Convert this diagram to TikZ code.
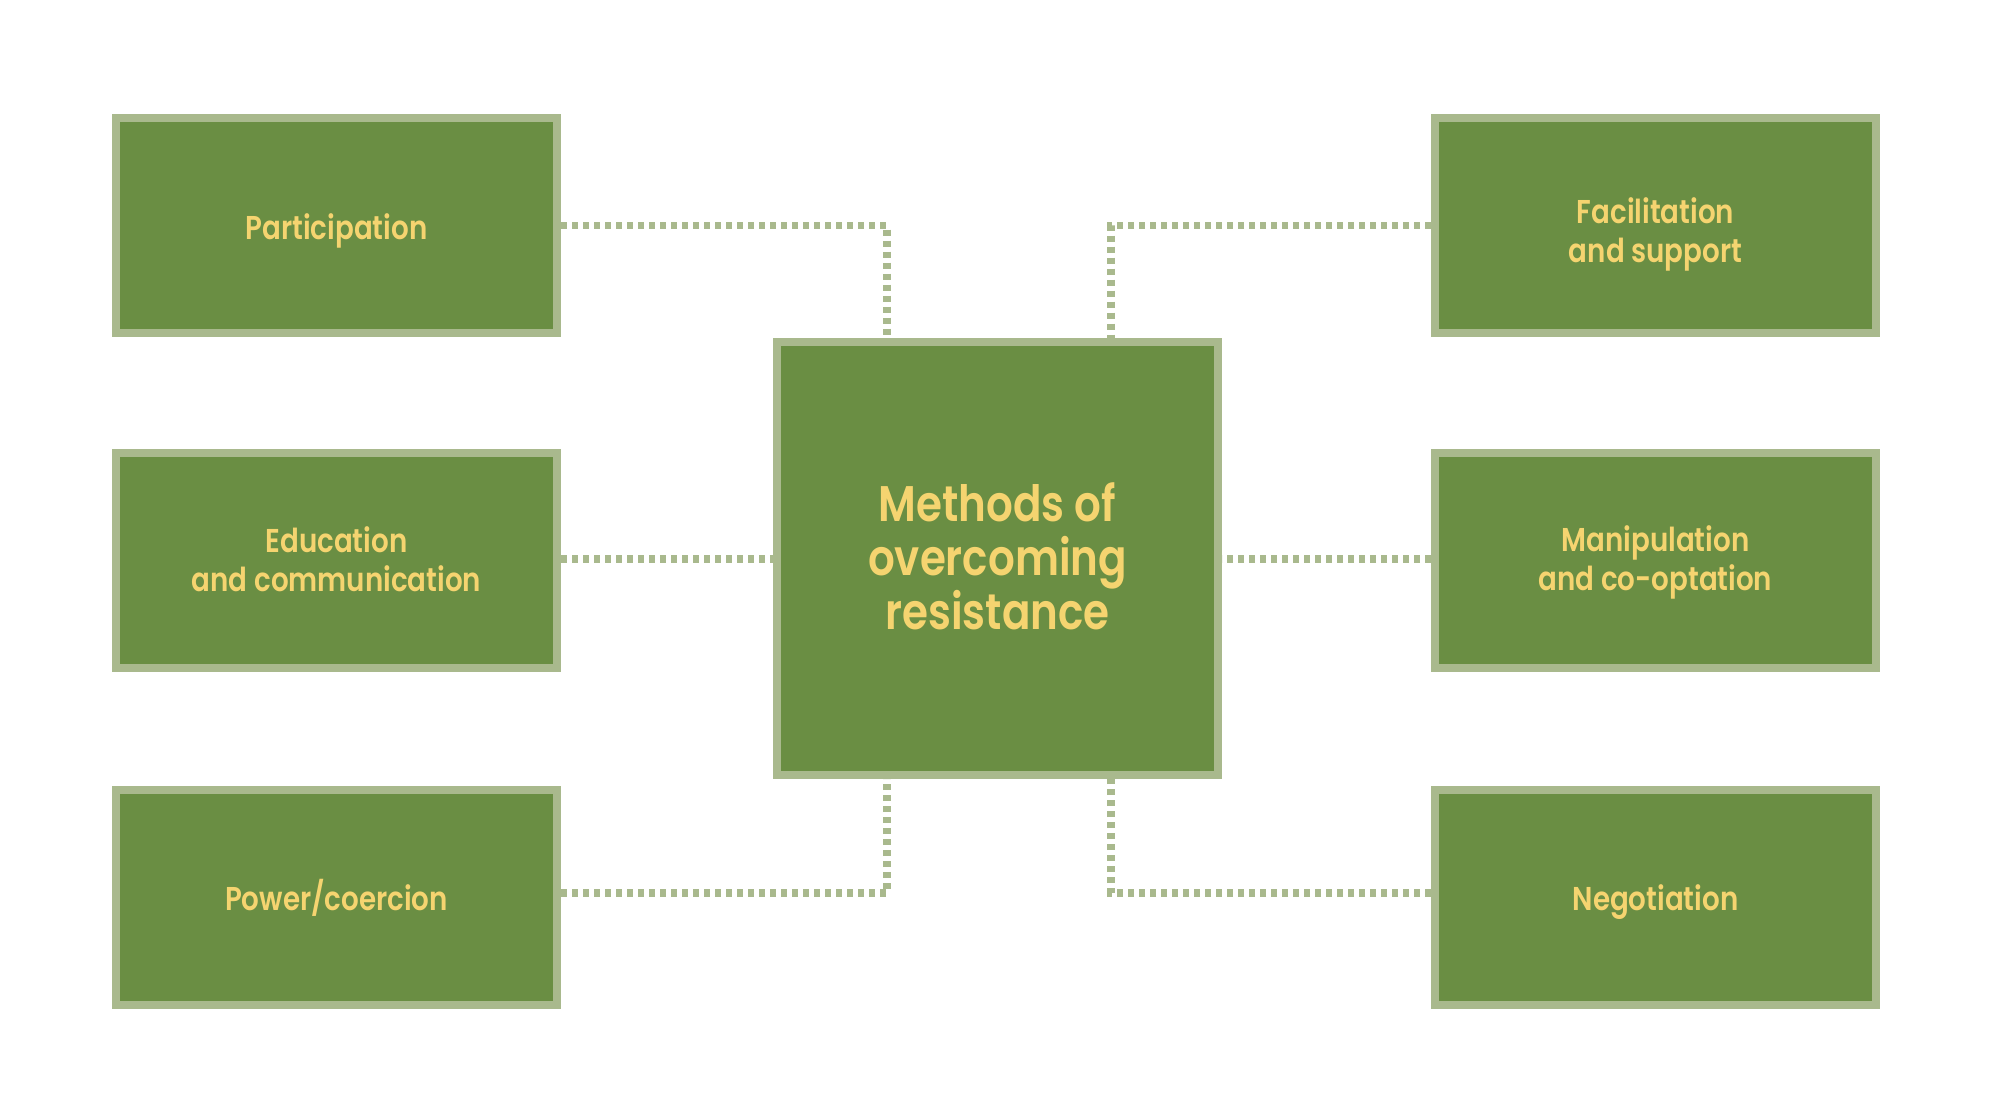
\documentclass[tikz,border=0pt]{standalone}
\usepackage{fontspec}
\setmainfont{Poppins}[FakeStretch=0.84, BoldFont=* SemiBold]
\definecolor{boxfill}{HTML}{6A8E43}
\definecolor{boxedge}{HTML}{A9B98D}
\definecolor{boxtext}{HTML}{F5D470}
\begin{document}
\begin{tikzpicture}[x=1pt,y=-1pt,
  box/.style={draw=boxedge, fill=boxfill, line width=8pt, minimum width=441pt, minimum height=215pt, inner sep=0pt},
  bigbox/.style={box, minimum height=433pt},
  lbl/.style={inner sep=0pt, align=center, text=boxtext, font=\fontsize{33}{39}\selectfont\bfseries},
  biglbl/.style={lbl, font=\fontsize{50}{54}\selectfont\bfseries},
  conn/.style={draw=boxedge, line width=7.5pt, dash pattern=on 6pt off 5pt}]
\useasboundingbox (0,0) rectangle (2000,1113);
\node[box] (p) at (336.5,225.5) {};
\node[box] (e) at (336.5,560.5) {};
\node[box] (w) at (336.5,897.5) {};
\node[box] (f) at (1655.5,225.5) {};
\node[box] (m) at (1655.5,560.5) {};
\node[box] (n) at (1655.5,897.5) {};
\node[bigbox] (c) at (997.5,558.5) {};
\node[lbl] (pt) at ([yshift=-5pt]p.center) {Participation};
\node[lbl] (et) at ([yshift=1pt]e.center) {Education\\and communication};
\node[lbl] (wt) at (w.center) {Power/coercion};
\node[lbl] (ft) at ([yshift=-9pt]f.center) {Facilitation\\and support};
\node[lbl] (mt) at ([yshift=-2pt]m.center) {Manipulation\\and co-optation};
\node[lbl] (nt) at ([yshift=-5pt]n.center) {Negotiation};
\node[biglbl] (ct) at ([yshift=2pt]c.center) {Methods of\\overcoming\\resistance};
\coordinate (cl) at (887,0);
\coordinate (cr) at (1111,0);
\draw[conn] (p.east) -| (cl |- c.north);
\draw[conn] (f.west) -| (cr |- c.north);
\draw[conn] (w.east |- 0,893) -| (cl |- c.south);
\draw[conn] (n.west |- 0,893) -| (cr |- c.south);
\draw[conn] (e.east |- 0,559) -- (c.west |- 0,559);
\draw[conn] (m.west |- 0,559) -- (c.east |- 0,559);
\end{tikzpicture}
\end{document}
